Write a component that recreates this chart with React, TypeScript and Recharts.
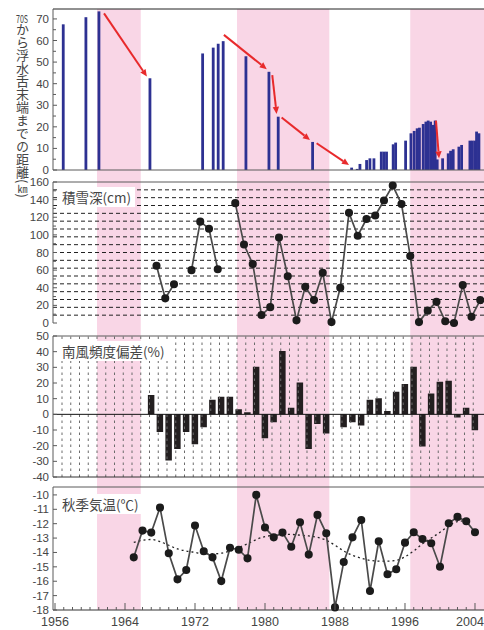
import {
  Bar,
  ComposedChart,
  Line,
  ReferenceLine,
  XAxis,
  YAxis,
} from "recharts";

const W = 484;
const H = 630;
const X_DOMAIN: [number, number] = [1955.77, 2005.03];
const FONT = '"Liberation Sans", Arial, sans-serif';
const JP = '"Noto Sans CJK JP", "Noto Sans", sans-serif';
const PINK = "#f9d6e6";
const AXIS = "#5a5a5a";
const INK = "#454545";
const RED = "#e82a2c";

// shaded periods
const bandStart = [1960.8, 1976.8, 1996.6];
const bandEnd = [1965.8, 1987.35, 2005.03];

// panel 1: distance from 70S to the ice tongue tip (km)
const tongueTime = [
  1956.95, 1959.54, 1961.03, 1966.86, 1972.88, 1974.09, 1974.66, 1975.23, 1977.83,
  1980.46, 1981.52, 1985.45, 1989.91, 1990.55, 1990.86, 1991.62, 1992.0, 1992.46,
  1993.3, 1993.6, 1993.9, 1994.66, 1994.94, 1996.08, 1996.69, 1997.06, 1997.4,
  1997.66, 1998.09, 1998.4, 1998.66, 1998.94, 1999.23, 1999.46, 1999.69, 2000.31,
  2000.95, 2001.22, 2001.52, 2002.17, 2002.48, 2003.43, 2003.71, 2004.0, 2004.19,
  2004.46,
];
const tongueKm = [
  67.5, 70.8, 73.5, 42.5, 54, 56.7, 58.5, 59.7, 52.7,
  45.5, 24.7, 13, 1.1, 0.5, 2.8, 4.6, 5.4, 5.4,
  8.5, 8.5, 8.5, 11.9, 12.7, 13.6, 17, 18.1, 19.3,
  19.6, 21.3, 22.4, 22.9, 22.4, 20.9, 22.9, 4.9, 5.4,
  7.7, 8.9, 9.6, 10.8, 11.6, 13.6, 13.6, 13.6, 17.8,
  17,
];
const tongueTicks = [0, 5, 10, 15, 20, 25, 30, 35, 40, 45, 50, 55, 60, 65, 70];

// retreat arrows (start -> tip)
const arrowX1 = [1961.6, 1975.3, 1980.83, 1981.9, 1985.9, 1999.54];
const arrowY1 = [72.6, 62.6, 44, 24.3, 12.4, 22.9];
const arrowX2 = [1966.5, 1980.2, 1981.33, 1985.14, 1989.6, 1999.89];
const arrowY2 = [43.3, 46.7, 26, 13.9, 2.3, 5.4];

// panel 2: snow depth (cm), winter seasons
const snowYears = [
  1967, 1968, 1969, 1970, 1971, 1972, 1973, 1974, 1975, 1976, 1977, 1978, 1979,
  1980, 1981, 1982, 1983, 1984, 1985, 1986, 1987, 1988, 1989, 1990, 1991, 1992,
  1993, 1994, 1995, 1996, 1997, 1998, 1999, 2000, 2001, 2002, 2003, 2004,
];
const snowCm = [
  65, 28, 44, null, 60, 115, 107, 61, null, 136, 89, 67, 9,
  18, 97, 53, 3, 41, 26, 57, 1, 40, 125, 99, 118, 122,
  139, 156, 135, 76, 1, 14, 24, 2, 0, 43, 7, 26,
];
const snowTicks = [0, 10, 20, 30, 40, 50, 60, 70, 80, 90, 100, 110, 120, 130, 140, 150, 160];

// panel 3: southerly wind frequency anomaly (%)
const windYears = [
  1967, 1968, 1969, 1970, 1971, 1972, 1973, 1974, 1975, 1976, 1977, 1978, 1979,
  1980, 1981, 1982, 1983, 1984, 1985, 1986, 1987, 1988, 1989, 1990, 1991, 1992,
  1993, 1994, 1995, 1996, 1997, 1998, 1999, 2000, 2001, 2002, 2003, 2004,
];
const windDev = [
  12.3, -11.2, -29.4, -22.2, -11.2, -19.1, -8.3, 9.3, 11.2, 11.2, 3.2, 1.3, 30.3,
  -15.3, -5.1, 40.5, 4.2, 20.3, -22.2, -6.1, -12.3, 0, -8.3, -5.1, -7.2, 9.3,
  10.2, 2.1, 14.4, 19.3, 30.3, -20.6, 13.3, 20.8, 21.4, -2.1, 4.2, -10.2,
];
const windTicks = [-40, -30, -20, -10, 0, 10, 20, 30, 40, 50];

// panel 4: autumn air temperature (°C)
const tempYears = [
  1965, 1966, 1967, 1968, 1969, 1970, 1971, 1972, 1973, 1974, 1975, 1976, 1977,
  1978, 1979, 1980, 1981, 1982, 1983, 1984, 1985, 1986, 1987, 1988, 1989, 1990,
  1991, 1992, 1993, 1994, 1995, 1996, 1997, 1998, 1999, 2000, 2001, 2002, 2003, 2004,
];
const tempC = [
  -14.34, -12.48, -12.62, -10.88, -14.06, -15.87, -15.22, -12.13, -13.92, -14.34,
  -15.99, -13.67, -13.81, -14.41, -10.0, -12.27, -12.95, -12.62, -13.6, -11.9,
  -14.15, -11.39, -12.67, -17.82, -14.66, -12.95, -11.74, -16.68, -13.22, -15.52,
  -15.17, -13.32, -12.6, -13.06, -13.36, -14.99, -11.97, -11.53, -11.83, -12.6,
];
const tempTrend = [
  -13.3, -13.15, -13.1, -13.25, -13.5, -13.75, -13.9, -14.0, -14.1, -14.1,
  -14.05, -13.9, -13.65, -13.4, -13.1, -12.9, -12.8, -12.75, -12.75, -12.8,
  -12.85, -12.95, -13.15, -13.5, -13.9, -14.2, -14.4, -14.55, -14.6, -14.6,
  -14.55, -14.3, -13.9, -13.4, -13.0, -12.6, -12.15, -11.85, -11.8, null,
];
const tempTicks = [-18, -17, -16, -15, -14, -13, -12, -11, -10];

const xLabelYears = [1956, 1964, 1972, 1980, 1988, 1996, 2004];
const allYears = Array.from({ length: 49 }, (_, i) => 1956 + i);

const tongue = tongueTime.map((t, i) => ({ t, km: tongueKm[i] }));
const snow = snowYears.map((year, i) => ({ x: year + 0.6, cm: snowCm[i] }));
const wind = windYears.map((year, i) => ({ year, dev: windDev[i] }));
const temp = tempYears.map((year, i) => ({ year, t: tempC[i], trend: tempTrend[i] }));

// one stacked row: gap, shaded, gap, shaded ... along the year axis
const bgRow: Record<string, number | string> = { row: "bg" };
let prevEnd = 0;
bandStart.forEach((s, i) => {
  bgRow[`gap${i}`] = s - prevEnd;
  bgRow[`band${i}`] = bandEnd[i] - s;
  prevEnd = bandEnd[i];
});

function makeYTick(labelStep: number) {
  return (props: any) => {
    const { x, y, payload } = props;
    const v = payload.value as number;
    const major = Math.abs(v % labelStep) < 1e-6;
    return (
      <g>
        <line x1={x} x2={x + (major ? 4 : 3)} y1={y} y2={y} stroke={AXIS} />
        {major && (
          <text x={x - 4} y={y} dy={4} textAnchor="end" fontSize={11.5} fill={INK} fontFamily={FONT}>
            {v}
          </text>
        )}
      </g>
    );
  };
}

function makeXTick(withLabel: boolean) {
  return (props: any) => {
    const { x, y, payload } = props;
    const yr = payload.value as number;
    const major = withLabel && xLabelYears.includes(yr);
    return (
      <g>
        <line x1={x} x2={x} y1={y} y2={y - (major ? 7 : 3)} stroke={AXIS} />
        {major && (
          <text x={Math.min(x, W - 14)} y={y + 16} textAnchor="middle" fontSize={12.5} fill={INK} fontFamily={FONT}>
            {yr}
          </text>
        )}
      </g>
    );
  };
}

const Arrow = (p: any) => {
  const { x1, y1, x2, y2 } = p;
  const a = Math.atan2(y2 - y1, x2 - x1);
  const len = 7;
  const half = 3.2;
  const bx = x2 - len * Math.cos(a);
  const by = y2 - len * Math.sin(a);
  const nx = -Math.sin(a) * half;
  const ny = Math.cos(a) * half;
  return (
    <g>
      <line x1={x1} y1={y1} x2={bx} y2={by} stroke={RED} strokeWidth={2} />
      <polygon points={`${x2},${y2} ${bx + nx},${by + ny} ${bx - nx},${by - ny}`} fill={RED} />
    </g>
  );
};

// fixed-width stick for the tongue observations
const Stick = (p: any) => (
  <rect x={p.x + p.width / 2 - 1.4} y={p.y} width={2.8} height={p.height} fill="#2d3192" />
);

const layer = { position: "absolute" as const, left: 0, top: 0 };

const labelBox = (top: number, left: number, text: string) => (
  <div
    style={{
      position: "absolute",
      top,
      left,
      background: "#fff",
      padding: "1px 4px",
      fontFamily: JP,
      fontSize: 13.5,
      lineHeight: "18px",
      color: INK,
      whiteSpace: "nowrap",
    }}
  >
    {text}
  </div>
);

export default function App() {
  return (
    <div style={{ position: "absolute", left: 0, top: 0, width: W, height: H, background: "#fff", overflow: "hidden" }}>
      {/* shaded periods behind every panel */}
      <div style={layer}>
        <ComposedChart
          layout="vertical"
          width={W}
          height={H}
          data={[bgRow]}
          margin={{ top: 9, right: 0, bottom: 20, left: 53 }}
          barCategoryGap={0}
        >
          <XAxis type="number" domain={X_DOMAIN} allowDataOverflow hide />
          <YAxis type="category" dataKey="row" hide />
          {bandStart.map((_, i) => [
            <Bar key={`g${i}`} dataKey={`gap${i}`} stackId="bg" fill="transparent" isAnimationActive={false} />,
            <Bar key={`b${i}`} dataKey={`band${i}`} stackId="bg" fill={PINK} isAnimationActive={false} />,
          ])}
        </ComposedChart>
      </div>

      {/* panel 1 */}
      <div style={layer}>
        <ComposedChart width={W} height={H} data={tongue} margin={{ top: 9, right: 0, bottom: 460, left: 0 }}>
          <XAxis type="number" dataKey="t" domain={X_DOMAIN} allowDataOverflow hide />
          <YAxis
            type="number"
            domain={[0, 74.6]}
            ticks={tongueTicks}
            interval={0}
            width={53}
            stroke={AXIS}
            tickLine={false}
            tickSize={0}
            tickMargin={0}
            tick={makeYTick(10)}
          />
          <ReferenceLine y={74.6} stroke="#222" />
          <Bar dataKey="km" fill="#2d3192" barSize={3} shape={Stick} isAnimationActive={false} />
          <ReferenceLine y={0} stroke={AXIS} />
          {arrowX1.map((x, i) => (
            <ReferenceLine
              key={i}
              segment={[
                { x, y: arrowY1[i] },
                { x: arrowX2[i], y: arrowY2[i] },
              ]}
              ifOverflow="visible"
              shape={Arrow}
            />
          ))}
        </ComposedChart>
      </div>

      {/* panel 2 */}
      <div style={layer}>
        <ComposedChart width={W} height={H} data={snow} margin={{ top: 182, right: 0, bottom: 307, left: 0 }}>
          <XAxis
            type="number"
            dataKey="x"
            domain={X_DOMAIN}
            allowDataOverflow
            ticks={allYears}
            interval={0}
            height={0}
            stroke={AXIS}
            tickLine={false}
            tickSize={0}
            tickMargin={0}
            tick={makeXTick(false)}
          />
          <YAxis
            type="number"
            domain={[0, 160]}
            ticks={snowTicks}
            interval={0}
            width={53}
            stroke={AXIS}
            tickLine={false}
            tickSize={0}
            tickMargin={0}
            tick={makeYTick(20)}
          />
          {Array.from({ length: 17 }, (_, i) => (
            <ReferenceLine key={i} y={((i + 1) * 160) / 18} stroke="#222" strokeDasharray="4 3" />
          ))}
          <ReferenceLine y={160} stroke={AXIS} />
          <Line
            dataKey="cm"
            stroke="#4a4a4a"
            strokeWidth={1.7}
            dot={{ r: 3.2, fill: "#1c1c1c", stroke: "#1c1c1c" }}
            isAnimationActive={false}
          />
        </ComposedChart>
      </div>

      {/* panel 3 */}
      <div style={layer}>
        <ComposedChart width={W} height={H} data={wind} margin={{ top: 336, right: 0, bottom: 153, left: 0 }}>
          <XAxis type="number" dataKey="year" domain={X_DOMAIN} allowDataOverflow hide />
          <YAxis
            type="number"
            domain={[-40, 50]}
            ticks={windTicks}
            interval={0}
            width={53}
            stroke={AXIS}
            tickLine={false}
            tickSize={0}
            tickMargin={0}
            tick={makeYTick(10)}
          />
          {allYears.slice(1).map((yr) => (
            <ReferenceLine key={yr} x={yr - 0.2} stroke="#6b6b6b" strokeDasharray="2.5 3.5" />
          ))}
          <ReferenceLine y={50} stroke={AXIS} />
          <ReferenceLine y={-40} stroke="#333" />
          <Bar dataKey="dev" fill="#231f20" barSize={6.5} isAnimationActive={false} />
          <ReferenceLine y={0} stroke="#111" />
        </ComposedChart>
      </div>

      {/* panel 4 */}
      <div style={layer}>
        <ComposedChart width={W} height={H} data={temp} margin={{ top: 487, right: 0, bottom: 0, left: 0 }}>
          <XAxis
            type="number"
            dataKey="year"
            domain={X_DOMAIN}
            allowDataOverflow
            ticks={allYears}
            interval={0}
            height={20}
            stroke="#333"
            tickLine={false}
            tickSize={0}
            tickMargin={0}
            tick={makeXTick(true)}
          />
          <YAxis
            type="number"
            domain={[-18, -9.45]}
            ticks={tempTicks}
            interval={0}
            width={53}
            stroke={AXIS}
            tickLine={false}
            tickSize={0}
            tickMargin={0}
            tick={makeYTick(1)}
          />
          <ReferenceLine y={-9.45} stroke={AXIS} />
          <Line
            dataKey="trend"
            type="monotone"
            stroke="#222"
            strokeWidth={1.3}
            strokeDasharray="2 3"
            dot={false}
            isAnimationActive={false}
          />
          <Line
            dataKey="t"
            stroke="#4a4a4a"
            strokeWidth={1.7}
            dot={{ r: 3.2, fill: "#1c1c1c", stroke: "#1c1c1c" }}
            isAnimationActive={false}
          />
        </ComposedChart>
      </div>

      {labelBox(187, 58, "積雪深(cm)")}
      {labelBox(341, 58, "南風頻度偏差(%)")}
      {labelBox(494, 58, "秋季気温(℃)")}

      <div
        style={{
          position: "absolute",
          left: 13,
          top: 12,
          writingMode: "vertical-rl",
          fontFamily: JP,
          fontSize: 13,
          lineHeight: "17px",
          color: INK,
          whiteSpace: "nowrap",
        }}
      >
        <span style={{ textCombineUpright: "all", fontSize: 11 } as any}>70S</span>
        から浮水舌末端までの距離(
        <span style={{ textCombineUpright: "all", fontSize: 10 } as any}>km</span>)
      </div>
    </div>
  );
}
